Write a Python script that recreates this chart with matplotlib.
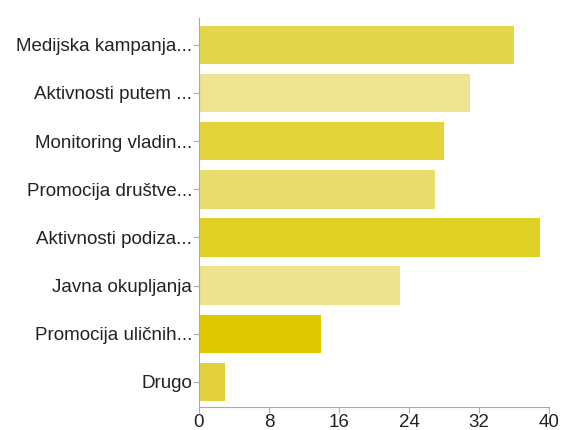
import matplotlib
matplotlib.use("Agg")
import matplotlib.pyplot as plt

labels = ["Medijska kampanja...", "Aktivnosti putem ...", "Monitoring vladin...",
          "Promocija društve...", "Aktivnosti podiza...", "Javna okupljanja",
          "Promocija uličnih...", "Drugo"]
values = [36, 31, 28, 27, 39, 23, 14, 3]
colors = ["#e3d64c", "#ede390", "#e4d43c", "#e8dc6c", "#e0d024", "#ede28e",
          "#dfc800", "#e2d03c"]
xticks = [0, 8, 16, 24, 32, 40]

plt.rcParams["font.family"] = ["Liberation Sans", "DejaVu Sans"]

fig = plt.figure(figsize=(5.65, 4.3), dpi=100)
ax = fig.add_axes([0.352, 0.0535, 0.620, 0.905])

ypos = list(range(len(labels)))
ax.barh(ypos, values, height=0.8, color=colors)

ax.set_xlim(0, 40)
ax.set_ylim(len(labels) - 0.48, -0.56)
ax.set_xticks(xticks)
ax.set_yticks(ypos)
ax.set_yticklabels(labels)

for s in ["top", "right"]:
    ax.spines[s].set_visible(False)
for s in ["left", "bottom"]:
    ax.spines[s].set_color("#aaaaaa")
    ax.spines[s].set_linewidth(0.8)

ax.tick_params(axis="both", colors="#aaaaaa", length=4, width=0.8,
               labelcolor="#222222", labelsize=13.5)
ax.tick_params(axis="x", pad=1)
ax.tick_params(axis="y", pad=1)

fig.savefig("out.png", dpi=100)
